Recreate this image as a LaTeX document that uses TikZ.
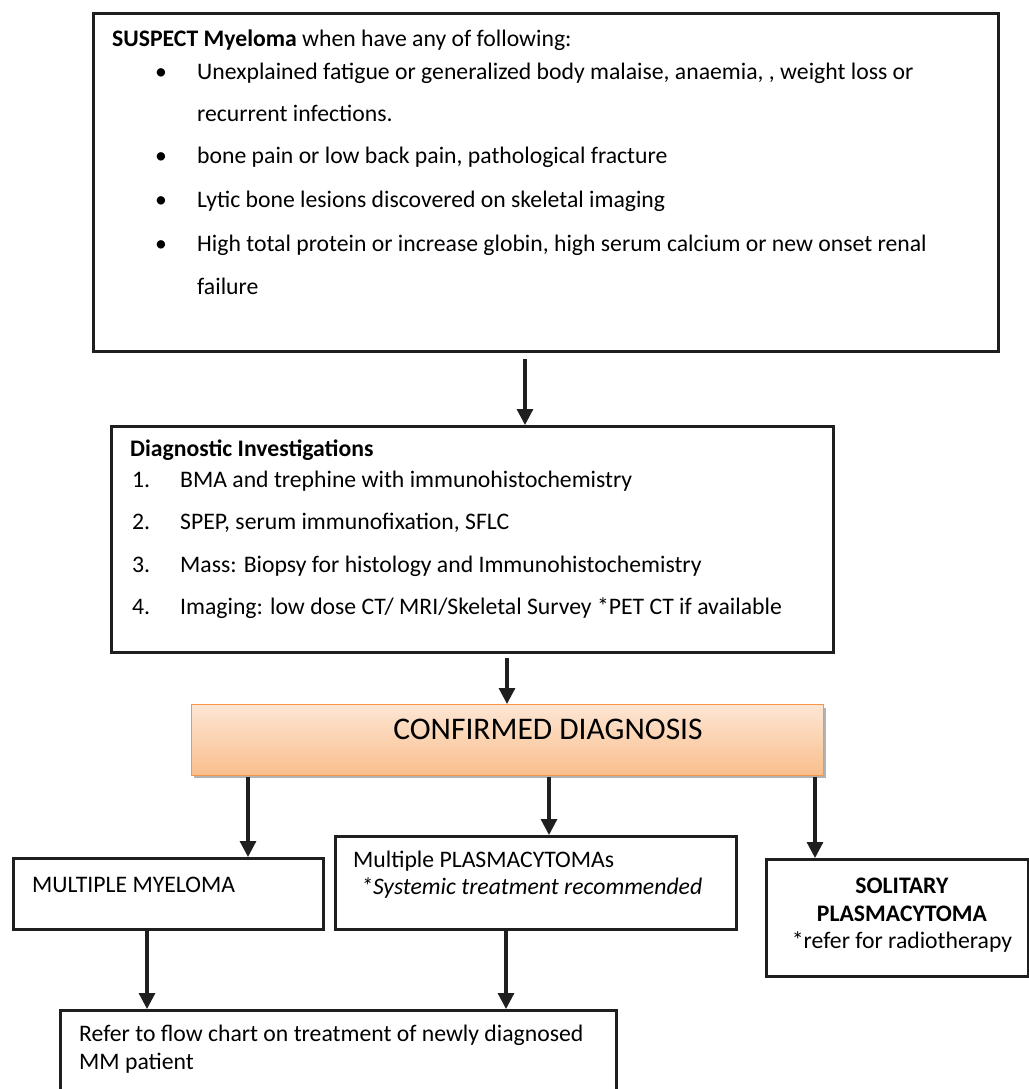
\documentclass[tikz,border=0pt]{standalone}
\usepackage{fontspec}
\setmainfont{Carlito}
\usetikzlibrary{arrows.meta}
\definecolor{peachtop}{HTML}{FDE6D4}
\definecolor{peachbot}{HTML}{F9BE8C}
\definecolor{peachline}{HTML}{F79646}
\begin{document}
\begin{tikzpicture}[x=1pt,y=-1pt,
  box/.style={draw=black!88, line width=3pt, rectangle, anchor=north west, inner sep=0pt},
  txt/.style={anchor=base west, inner sep=0pt, font=\fontsize{23.7}{28}\selectfont},
  ctxt/.style={anchor=base, inner sep=0pt, font=\fontsize{23.7}{28}\selectfont},
  arr/.style={draw=black!88, line width=3.2pt, -{Triangle[width=16pt,length=16pt]}}]
\useasboundingbox (0,0) rectangle (1028,1089);
\fill[white] (0,0) rectangle (1028,1089);

% boxes
\node[box, minimum width=905pt, minimum height=338pt] (top) at (92,12) {};
\node[box, minimum width=722pt, minimum height=226pt] (diag) at (110,425) {};
\fill[black!30] (194,708) rectangle (826,778);
\node[anchor=north west, inner sep=0pt, minimum width=632pt, minimum height=71pt,
      top color=peachtop, bottom color=peachbot, draw=peachline, line width=1.4pt] (conf) at (191,704) {};
\node[box, minimum width=310pt, minimum height=71pt] (mm) at (12,857) {};
\node[box, minimum width=401pt, minimum height=93pt] (pc) at (334,835) {};
\node[box, minimum width=262pt, minimum height=117pt] (sol) at (765,858) {};
\node[box, minimum width=556pt, minimum height=120pt] (ref) at (59,1009) {};

% top box text
\node[txt] (t0) at (112,47) {\textbf{SUSPECT Myeloma} when have any of following:};
\node[txt] (b1) at (155,80) {\textbullet};
\node[txt] (t1) at (197,80) {Unexplained fatigue or generalized body malaise, anaemia, , weight loss or};
\node[txt] (t1b) at (197,122) {recurrent infections.};
\node[txt] (b2) at (155,164) {\textbullet};
\node[txt] (t2) at (197,164) {bone pain or low back pain, pathological fracture};
\node[txt] (b3) at (155,207) {\textbullet};
\node[txt] (t3) at (197,207) {Lytic bone lesions discovered on skeletal imaging};
\node[txt] (b4) at (155,251) {\textbullet};
\node[txt] (t4) at (197,251) {High total protein or increase globin, high serum calcium or new onset renal};
\node[txt] (t4b) at (197,294) {failure};

% diagnostic box text
\node[txt] (d0) at (130,456) {\textbf{Diagnostic Investigations}};
\node[txt] (n1) at (132,487) {1.};
\node[txt] (d1) at (180,487) {BMA and trephine with immunohistochemistry};
\node[txt] (n2) at (132,529) {2.};
\node[txt] (d2) at (180,529) {SPEP, serum immunofixation, SFLC};
\node[txt] (n3) at (132,572) {3.};
\node[txt] (d3) at (180,572) {Mass: Biopsy for histology and Immunohistochemistry};
\node[txt] (n4) at (132,614) {4.};
\node[txt] (d4) at (180,614) {Imaging: low dose CT/ MRI/Skeletal Survey *PET CT if available};

% confirmed
\node[anchor=base, inner sep=0pt, font=\fontsize{31.5}{34}\selectfont] (ct) at (548,739) {CONFIRMED DIAGNOSIS};

% lower boxes text
\node[txt] (m0) at (32,892) {MULTIPLE MYELOMA};
\node[txt] (p0) at (353,867) {Multiple PLASMACYTOMAs};
\node[txt] (p1) at (361,894) {\textit{*Systemic treatment recommended}};
\node[ctxt] (s0) at (902,893) {\textbf{SOLITARY}};
\node[ctxt] (s1) at (902,921) {\textbf{PLASMACYTOMA}};
\node[ctxt] (s2) at (902,948) {*refer for radiotherapy};
\node[txt] (r0) at (79,1041) {Refer to flow chart on treatment of newly diagnosed};
\node[txt] (r1) at (79,1069) {MM patient};

% connector x positions
\coordinate (x1) at (525,0);
\coordinate (x2) at (507,0);
\coordinate (x3) at (248,0);
\coordinate (x4) at (549,0);
\coordinate (x5) at (815,0);
\coordinate (x6) at (147,0);
\coordinate (x7) at (506,0);

\draw[arr] ([yshift=-6pt]top.south -| x1) -- (diag.north -| x1);
\draw[arr] ([yshift=-4pt]diag.south -| x2) -- (conf.north -| x2);
\draw[arr] ([yshift=-1pt]conf.south -| x3) -- (mm.north -| x3);
\draw[arr] ([yshift=-1pt]conf.south -| x4) -- (pc.north -| x4);
\draw[arr] ([yshift=-1pt]conf.south -| x5) -- (sol.north -| x5);
\draw[arr] (mm.south -| x6) -- (ref.north -| x6);
\draw[arr] (pc.south -| x7) -- (ref.north -| x7);
\end{tikzpicture}
\end{document}
